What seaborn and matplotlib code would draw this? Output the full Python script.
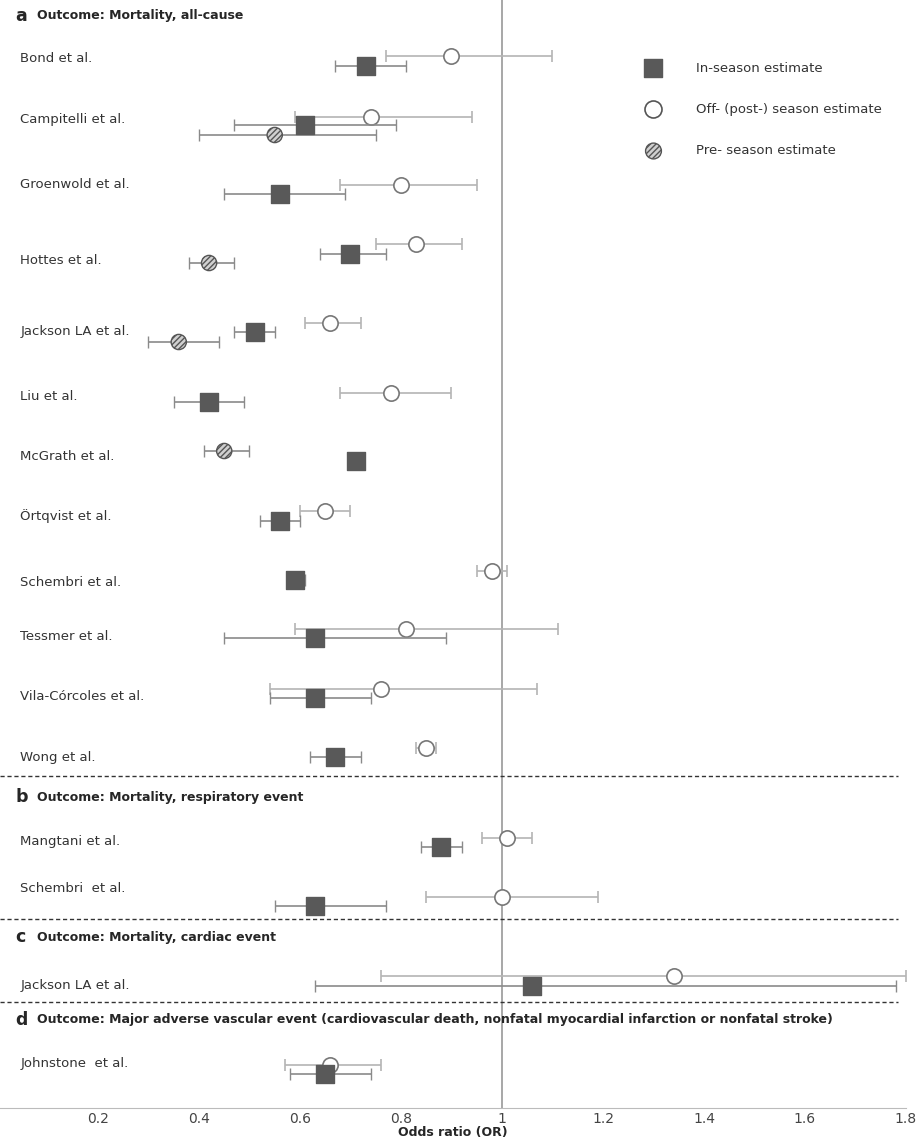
import matplotlib
matplotlib.use("Agg")
import matplotlib.pyplot as plt
import seaborn as sns
import pandas as pd

# study rows
studies = ["Bond et al.", "Campitelli et al.", "Groenwold et al.", "Hottes et al.",
           "Jackson LA et al.", "Liu et al.", "McGrath et al.", "Örtqvist et al.",
           "Schembri et al.", "Tessmer et al.", "Vila-Córcoles et al.", "Wong et al.",
           "Mangtani et al.", "Schembri  et al.", "Jackson LA et al.", "Johnstone  et al."]

in_or = [0.73, 0.61, 0.56, 0.70, 0.51, 0.42, 0.71, 0.56, 0.59, 0.63, 0.63, 0.67, 0.88, 0.63, 1.06, 0.65]
in_lo = [0.67, 0.47, 0.45, 0.64, 0.47, 0.35, 0.71, 0.52, 0.58, 0.45, 0.54, 0.62, 0.84, 0.55, 0.63, 0.58]
in_hi = [0.81, 0.79, 0.69, 0.77, 0.55, 0.49, 0.71, 0.60, 0.61, 0.89, 0.74, 0.72, 0.92, 0.77, 1.78, 0.74]

off_or = [0.90, 0.74, 0.80, 0.83, 0.66, 0.78, None, 0.65, 0.98, 0.81, 0.76, 0.85, 1.01, 1.00, 1.34, 0.66]
off_lo = [0.77, 0.59, 0.68, 0.75, 0.61, 0.68, None, 0.60, 0.95, 0.59, 0.54, 0.83, 0.96, 0.85, 0.76, 0.57]
off_hi = [1.10, 0.94, 0.95, 0.92, 0.72, 0.90, None, 0.70, 1.01, 1.11, 1.07, 0.87, 1.06, 1.19, 1.80, 0.76]

pre_or = [None, 0.55, None, 0.42, 0.36, None, 0.45, None, None, None, None, None, None, None, None, None]
pre_lo = [None, 0.40, None, 0.38, 0.30, None, 0.41, None, None, None, None, None, None, None, None, None]
pre_hi = [None, 0.75, None, 0.47, 0.44, None, 0.50, None, None, None, None, None, None, None, None, None]

panel_titles = [("a", "Outcome: Mortality, all-cause"),
                ("b", "Outcome: Mortality, respiratory event"),
                ("c", "Outcome: Mortality, cardiac event"),
                ("d", "Outcome: Major adverse vascular event (cardiovascular death, nonfatal myocardial infarction or nonfatal stroke)")]

# layout (vertical positions in figure pixels)
row_y = [58, 119, 185, 261, 332, 397, 457, 516, 582, 636, 697, 757, 841, 889, 986, 1064]
in_dy = [8, 6, 9, -7, 0, 5, 4, 5, -2, 2, 1, 0, 6, 17, 0, 10]
off_dy = [-2, -2, 0, -17, -9, -4, 0, -5, -11, -7, -8, -9, -3, 8, -10, 1]
pre_dy = [0, 16, 0, 2, 10, 0, -6, 0, 0, 0, 0, 0, 0, 0, 0, 0]
title_y = [16, 797, 937, 1020]
sep_y = [776, 919, 1002]

W, H = 919, 1142
fig = plt.figure(figsize=(W / 100, H / 100), dpi=100)
sns.set_style("white")
ax = fig.add_axes([0, (H - 1108) / H, 906 / W, 1108 / H])
ax.set_xlim(0.006, 1.8)
ax.set_ylim(1108, 0)

grey = "#595959"
ecol = "#b4b4b4"

df_in = pd.DataFrame({"x": in_or, "y": [a + b for a, b in zip(row_y, in_dy)]})
for i in range(len(studies)):
    if off_or[i] is not None:
        y = row_y[i] + off_dy[i]
        ax.errorbar(off_or[i], y, xerr=[[off_or[i] - off_lo[i]], [off_hi[i] - off_or[i]]],
                    fmt="o", ms=11, mfc="white", mec="#777777", mew=1.2,
                    ecolor=ecol, elinewidth=1.2, capsize=4, zorder=3)
    if pre_or[i] is not None:
        y = row_y[i] + pre_dy[i]
        ax.errorbar(pre_or[i], y, xerr=[[pre_or[i] - pre_lo[i]], [pre_hi[i] - pre_or[i]]],
                    fmt="none", ecolor="#8a8a8a", elinewidth=1.2, capsize=4, zorder=3)
        ax.scatter([pre_or[i]], [y], s=120, marker="o", facecolor="#d0d0d0",
                   edgecolor="#555555", hatch="//////", linewidth=1, zorder=4)
    y = df_in["y"][i]
    ax.errorbar(in_or[i], y, xerr=[[in_or[i] - in_lo[i]], [in_hi[i] - in_or[i]]],
                fmt="none", ecolor="#8a8a8a", elinewidth=1.2, capsize=4, zorder=4)
sns.scatterplot(data=df_in, x="x", y="y", marker="s", s=150, color=grey,
                edgecolor=grey, ax=ax, zorder=5)

ax.axvline(1.0, color="#a0a0a0", lw=1.3, zorder=1)
for s in sep_y:
    ax.axhline(s, color="#333333", lw=1, ls=(0, (3, 2)), xmin=0, xmax=898 / 906)

for lab, y in zip(studies, row_y):
    ax.text(0.046, y, lab, fontsize=9.5, va="center", ha="left", color="#333333")
for (letter, t), y in zip(panel_titles, title_y):
    ax.text(0.036, y, letter, fontsize=12.5, fontweight="bold", va="center")
    ax.text(0.080, y, t, fontsize=9, fontweight="bold", va="center")

# legend
lx = 1.30
ax.scatter([lx], [68], marker="s", s=150, color=grey, zorder=5)
ax.scatter([lx], [109], marker="o", s=150, facecolor="white", edgecolor="#555555", lw=1.2, zorder=5)
ax.scatter([lx], [151], marker="o", s=130, facecolor="#d0d0d0", edgecolor="#555555",
           hatch="//////", lw=1, zorder=5)
for y, t in zip([68, 109, 151], ["In-season estimate", "Off- (post-) season estimate",
                                 "Pre- season estimate"]):
    ax.text(1.385, y, t, fontsize=9.5, va="center", color="#333333")

ax.set_xticks([0.2, 0.4, 0.6, 0.8, 1.0, 1.2, 1.4, 1.6, 1.8])
ax.set_xticklabels(["0.2", "0.4", "0.6", "0.8", "1", "1.2", "1.4", "1.6", "1.8"], color="#444444")
ax.tick_params(axis="x", labelsize=10, length=0, pad=3)
ax.set_yticks([])
ax.set_xlabel("Odds ratio (OR)", fontsize=9, fontweight="bold", labelpad=0)
ax.set_ylabel("")
for s in ["top", "right", "left"]:
    ax.spines[s].set_visible(False)
ax.spines["bottom"].set_color("#bbbbbb")

fig.savefig("out.png", dpi=100)
